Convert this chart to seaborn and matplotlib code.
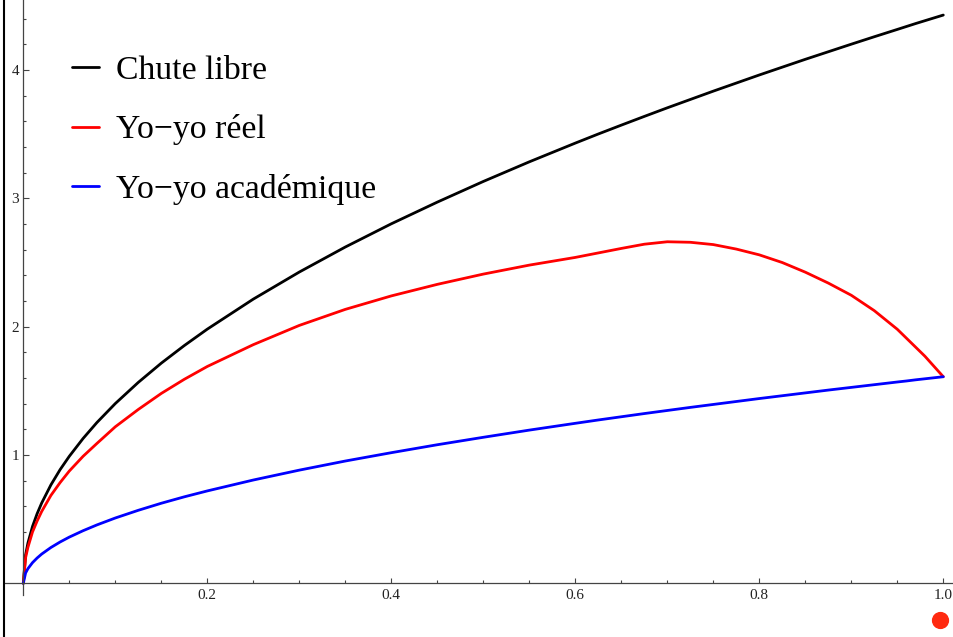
import numpy as np
import pandas as pd
import matplotlib
matplotlib.use("Agg")
import matplotlib.pyplot as plt
from matplotlib.lines import Line2D
from matplotlib.ticker import FixedLocator
import seaborn as sns

# values (height fallen in m -> speed in m/s)
hauteur = [0, 0.0025, 0.005, 0.01, 0.015, 0.02, 0.03, 0.04, 0.05, 0.065, 0.08,
           0.1, 0.125, 0.15, 0.175, 0.2, 0.25, 0.3, 0.35, 0.4, 0.45, 0.5, 0.55,
           0.6, 0.625, 0.65, 0.675, 0.7, 0.725, 0.75, 0.775, 0.8, 0.825, 0.85,
           0.875, 0.9, 0.925, 0.95, 0.96, 0.97, 0.98, 0.99, 1.0]
chute_libre = [0, 0.2215, 0.313, 0.443, 0.542, 0.626, 0.767, 0.886, 0.990, 1.129,
               1.253, 1.401, 1.566, 1.716, 1.853, 1.981, 2.215, 2.426, 2.621,
               2.802, 2.971, 3.132, 3.285, 3.431, 3.502, 3.571, 3.639, 3.706,
               3.771, 3.836, 3.899, 3.962, 4.023, 4.084, 4.143, 4.202, 4.260,
               4.317, 4.340, 4.363, 4.385, 4.407, 4.429]
yoyo_reel = [0, 0.20, 0.28, 0.40, 0.485, 0.56, 0.685, 0.785, 0.875, 0.99, 1.09,
             1.22, 1.355, 1.48, 1.59, 1.69, 1.86, 2.01, 2.135, 2.24, 2.33,
             2.41, 2.48, 2.54, 2.575, 2.61, 2.643, 2.662, 2.658, 2.64, 2.605,
             2.56, 2.50, 2.425, 2.34, 2.245, 2.125, 1.98, 1.91, 1.84, 1.77,
             1.69, 1.61]
yoyo_academique = [0, 0.0805, 0.114, 0.161, 0.197, 0.228, 0.279, 0.322, 0.360,
                   0.410, 0.455, 0.509, 0.569, 0.624, 0.674, 0.720, 0.805, 0.882,
                   0.953, 1.018, 1.080, 1.138, 1.194, 1.247, 1.273, 1.298, 1.323,
                   1.347, 1.371, 1.394, 1.417, 1.440, 1.462, 1.484, 1.506, 1.527,
                   1.548, 1.569, 1.577, 1.586, 1.594, 1.602, 1.61]

x_ticks = [0.2, 0.4, 0.6, 0.8, 1.0]
x_labels = ["0.2", "0.4", "0.6", "0.8", "1.0"]
y_ticks = [1, 2, 3, 4]
y_labels = ["1", "2", "3", "4"]

df = pd.DataFrame({"h": hauteur, "libre": chute_libre,
                   "reel": yoyo_reel, "acad": yoyo_academique})

sns.set_style("white")
plt.rcParams["font.family"] = ["Liberation Serif", "DejaVu Serif"]
plt.rcParams["text.color"] = "black"
plt.rcParams["xtick.labelcolor"] = "#222222"
plt.rcParams["ytick.labelcolor"] = "#222222"

W, H = 954, 637
fig = plt.figure(figsize=(W / 100, H / 100), dpi=100)
ax = fig.add_axes([0, 0, 1, 1])

# pixel geometry of the reference: origin at (23.3, 583.3), 920 px per x unit, 128.3 px per y unit
x0, y0, sx, sy = 23.3, 583.3, 920.0, 128.3
ax.set_xlim(-x0 / sx, (W - x0) / sx)
ax.set_ylim(-(H - y0) / sy, y0 / sy)

sns.lineplot(data=df, x="h", y="libre", ax=ax, color="black", lw=2.0,
             label="Chute libre", sort=False)
sns.lineplot(data=df, x="h", y="reel", ax=ax, color="#ff0000", lw=2.0,
             label="Yo\u2212yo réel", sort=False)
sns.lineplot(data=df, x="h", y="acad", ax=ax, color="#0000ff", lw=2.0,
             label="Yo\u2212yo académique", sort=False)

# Mathematica-style axes crossing at the origin
for s in ["top", "right"]:
    ax.spines[s].set_visible(False)
ax.spines["left"].set_position(("data", 0))
ax.spines["bottom"].set_position(("data", 0))
ax.spines["left"].set_bounds(-0.09, y0 / sy)
ax.spines["bottom"].set_bounds(-0.02, (W - x0) / sx)
for s in ["left", "bottom"]:
    ax.spines[s].set_color("#444444")
    ax.spines[s].set_linewidth(0.9)

ax.xaxis.set_major_locator(FixedLocator(x_ticks))
ax.set_xticklabels(x_labels)
ax.yaxis.set_major_locator(FixedLocator(y_ticks))
ax.set_yticklabels(y_labels)
ax.xaxis.set_minor_locator(FixedLocator([0.05, 0.1, 0.15, 0.25, 0.3, 0.35, 0.45, 0.5,
                                         0.55, 0.65, 0.7, 0.75, 0.85, 0.9, 0.95]))
ax.yaxis.set_minor_locator(FixedLocator([v / 5 for v in range(1, 23) if v % 5]))
ax.tick_params(axis="x", which="major", direction="in", length=3.6, width=0.8,
               color="#444444", labelsize=11, pad=4, bottom=True)
ax.tick_params(axis="x", which="minor", direction="in", length=2.2, width=0.8,
               color="#444444", bottom=True)
ax.tick_params(axis="y", which="major", direction="in", length=4.3, width=0.8,
               color="#444444", labelsize=11, pad=3, left=True)
ax.tick_params(axis="y", which="minor", direction="in", length=2.2, width=0.8,
               color="#444444", left=True)
ax.set_xlabel("")
ax.set_ylabel("")

leg = ax.legend(loc="upper left", bbox_to_anchor=(72 / W, 1 - 55 / H),
                bbox_transform=fig.transFigure, frameon=False, fontsize=24.3,
                borderpad=0, borderaxespad=0, handlelength=0.8, handletextpad=0.5,
                labelspacing=0.85)
for t in leg.get_texts():
    t.set_color("black")

# red marker at the bottom right and the frame edge on the left
ax.scatter([0.9964], [-0.286], s=130, color="#ff2a10", clip_on=False, zorder=5)
fig.add_artist(Line2D([4.5 / W, 4.5 / W], [0, 1], transform=fig.transFigure,
                      color="black", lw=1.5))

fig.savefig("out.png", dpi=100)
